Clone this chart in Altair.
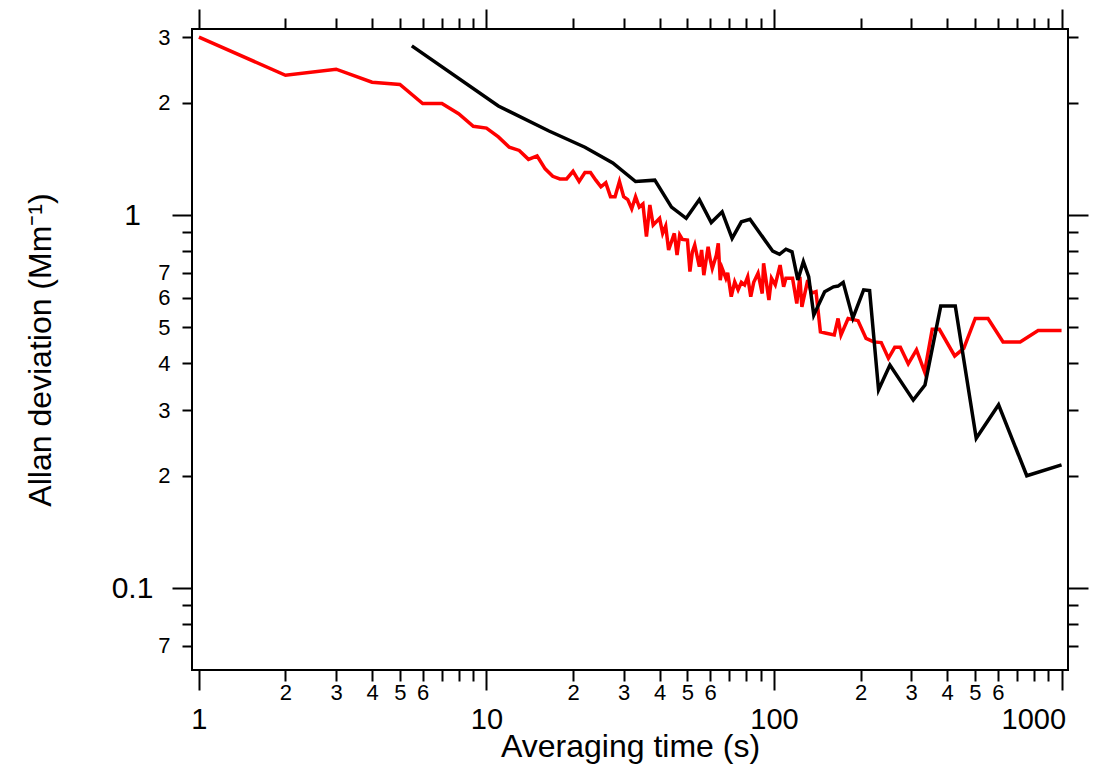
import altair as alt
import pandas as pd

# ---- data ----
black_tau = [5.5, 11, 16.5, 22, 27.5, 33, 38.5, 44, 49.5, 55, 60.5, 66, 71.5, 77, 82.5,
             99, 104.5, 110, 115.5, 121, 126.5, 132, 137.5, 150, 161, 167, 174, 188, 205,
             215, 231, 253, 305, 335, 380, 427, 505, 604, 757, 1000]
black_adev = [2.84, 1.96, 1.68, 1.52, 1.38, 1.23, 1.24, 1.05, 0.98, 1.10, 0.955, 1.02, 0.866,
              0.959, 0.974, 0.80, 0.785, 0.81, 0.797, 0.67, 0.75, 0.684, 0.539, 0.623, 0.642,
              0.645, 0.66, 0.529, 0.63, 0.627, 0.340, 0.396, 0.319, 0.350, 0.570, 0.570,
              0.252, 0.310, 0.200, 0.214]

red_tau = [1, 2, 3, 4, 5, 6, 7, 8, 9, 10, 11, 12, 13, 14, 15, 16, 17, 18, 19, 20, 21, 22, 23,
           24, 25, 26, 27, 28, 29, 30, 31, 32, 33, 34, 35, 36, 37, 38, 40, 41, 42, 43, 45, 46,
           47, 48, 50, 51, 52, 53, 55, 56, 57, 59, 60, 61, 63, 64, 65, 66, 68, 69, 71, 73, 75,
           77, 79, 81, 83, 85, 88, 91, 92, 96, 98, 101, 105, 108, 110, 116, 120, 123, 125,
           131, 135, 140, 145, 152, 162, 167, 171, 181, 196, 209, 222, 236, 250, 263, 275,
           293, 313, 334, 355, 376, 425, 457, 501, 555, 626, 718, 829, 1000]
red_adev = [3.0, 2.37, 2.46, 2.27, 2.24, 1.99, 1.99, 1.87, 1.73, 1.71, 1.62, 1.52, 1.49, 1.41,
            1.44, 1.33, 1.27, 1.25, 1.25, 1.31, 1.23, 1.30, 1.30, 1.24, 1.19, 1.22, 1.12, 1.12,
            1.23, 1.12, 1.10, 1.04, 1.12, 1.05, 1.07, 0.875, 1.064, 0.94, 0.98, 0.893, 0.934,
            0.806, 0.893, 0.781, 0.884, 0.86, 0.857, 0.705, 0.797, 0.831, 0.727, 0.806, 0.690,
            0.822, 0.76, 0.719, 0.78, 0.84, 0.669, 0.72, 0.677, 0.70, 0.604, 0.662, 0.63, 0.66,
            0.65, 0.683, 0.604, 0.66, 0.698, 0.616, 0.742, 0.592, 0.677, 0.65, 0.734, 0.642,
            0.677, 0.677, 0.579, 0.683, 0.567, 0.669, 0.617, 0.623, 0.486, 0.482, 0.477, 0.528,
            0.477, 0.528, 0.521, 0.467, 0.457, 0.455, 0.413, 0.442, 0.442, 0.399, 0.435, 0.380,
            0.494, 0.494, 0.419, 0.439, 0.528, 0.528, 0.457, 0.457, 0.49, 0.49]

x_major = [1, 10, 100, 1000]
x_minor = [2, 3, 4, 5, 6, 7, 8, 9, 20, 30, 40, 50, 60, 70, 80, 90,
           200, 300, 400, 500, 600, 700, 800, 900]
y_major = [0.1, 1]
y_minor = [0.07, 0.08, 0.09, 0.2, 0.3, 0.4, 0.5, 0.6, 0.7, 0.8, 0.9, 2, 3]

x_title = "Averaging time (s)"
y_title = "Allan deviation (Mm\u207b\u00b9)"

red_df = pd.DataFrame({"tau": red_tau, "adev": red_adev})
black_df = pd.DataFrame({"tau": black_tau, "adev": black_adev})

FONT = "Liberation Sans"
xscale = alt.Scale(type="log", domain=[0.946, 1053], nice=False)
yscale = alt.Scale(type="log", domain=[0.0603, 3.153], nice=False)

common = dict(domain=False, grid=False, tickColor="black", tickWidth=2,
              labelColor="black", labelFont=FONT, ticks=True)

minor_x_expr = ("indexof('789', substring(format(datum.value, '.0e'), 0, 1)) >= 0"
                " ? '' : substring(format(datum.value, '.0e'), 0, 1)")
minor_y_expr = ("indexof('89', substring(format(datum.value, '.0e'), 0, 1)) >= 0"
                " ? '' : substring(format(datum.value, '.0e'), 0, 1)")

ax_bottom_major = alt.Axis(orient="bottom", values=x_major, format="~g", tickSize=20,
                           labelFontSize=29, labelPadding=15,
                           labelAlign={"condition": {"test": "datum.value >= 999",
                                                     "value": "right"},
                                       "value": "center"},
                           labelOffset={"condition": {"test": "datum.value >= 999",
                                                      "value": 4},
                                        "value": 0},
                           title=x_title,
                           titleFont=FONT, titleFontSize=32, titleFontWeight="normal",
                           titleColor="black", titleY=86, titleBaseline="alphabetic",
                           **common)
ax_bottom_minor = alt.Axis(orient="bottom", values=x_minor, labelExpr=minor_x_expr,
                           tickSize=11, labelFontSize=22, labelPadding=1, title=None,
                           labelOverlap=False, **common)
ax_top_major = alt.Axis(orient="top", values=x_major, tickSize=20, labels=False,
                        title=None, **common)
ax_top_minor = alt.Axis(orient="top", values=x_minor, tickSize=11, labels=False,
                        title=None, **common)

ax_left_major = alt.Axis(orient="left", values=y_major, format="~g", tickSize=20,
                         labelFontSize=30, labelPadding=40, labelAlign="center",
                         title=y_title,
                         titleFont=FONT, titleFontSize=32, titleFontWeight="normal",
                         titleColor="black", titlePadding=54, **common)
ax_left_minor = alt.Axis(orient="left", values=y_minor, labelExpr=minor_y_expr,
                         tickSize=10, labelFontSize=22, labelPadding=12, title=None,
                         labelOverlap=False, **common)
ax_right_major = alt.Axis(orient="right", values=y_major, tickSize=20, labels=False,
                          title=None, **common)
ax_right_minor = alt.Axis(orient="right", values=y_minor, tickSize=10, labels=False,
                          title=None, **common)

red_line = alt.Chart(red_df).mark_line(color="#ff0000", strokeWidth=3.5, clip=True).encode(
    x=alt.X("tau:Q", scale=xscale, axis=ax_bottom_major),
    y=alt.Y("adev:Q", scale=yscale, axis=ax_left_major),
)
black_line = alt.Chart(black_df).mark_line(color="#000000", strokeWidth=3.5, clip=True).encode(
    x=alt.X("tau:Q", scale=xscale, axis=None),
    y=alt.Y("adev:Q", scale=yscale, axis=None),
)
ghost1 = alt.Chart(red_df).mark_point(opacity=0).encode(
    x=alt.X("tau:Q", scale=xscale, axis=ax_bottom_minor),
    y=alt.Y("adev:Q", scale=yscale, axis=ax_left_minor),
)
ghost2 = alt.Chart(red_df).mark_point(opacity=0).encode(
    x=alt.X("tau:Q", scale=xscale, axis=ax_top_major),
    y=alt.Y("adev:Q", scale=yscale, axis=ax_right_major),
)
ghost3 = alt.Chart(red_df).mark_point(opacity=0).encode(
    x=alt.X("tau:Q", scale=xscale, axis=ax_top_minor),
    y=alt.Y("adev:Q", scale=yscale, axis=ax_right_minor),
)

chart = alt.layer(red_line, black_line, ghost1, ghost2, ghost3).resolve_axis(
    x="independent", y="independent"
).properties(
    width=876, height=641,
    autosize=alt.AutoSizeParams(type="none"),
    padding={"left": 184, "top": 21, "right": 23, "bottom": 96},
    background="white",
).configure_view(stroke="black", strokeWidth=2)

chart.save("out.html", embed_options={"renderer": "svg", "actions": False})
